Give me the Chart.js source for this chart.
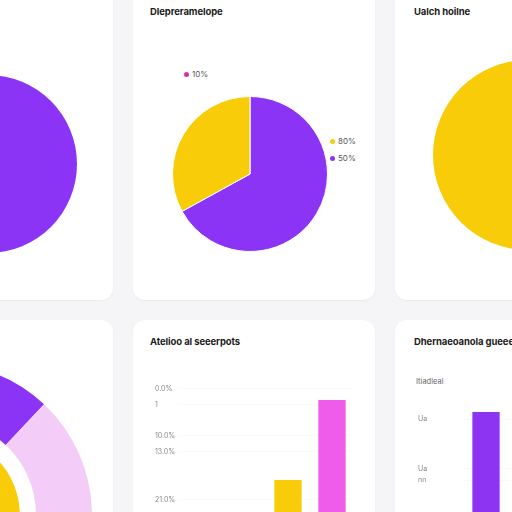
<!DOCTYPE html>
<html>
<head>
<meta charset="utf-8">
<script src="https://cdn.jsdelivr.net/npm/chart.js"></script>
<style>
  body { margin: 0; width: 512px; height: 512px; overflow: hidden; position: relative;
         background: #f5f5f7; font-family: Inter, "DejaVu Sans", sans-serif; }
  .card { position: absolute; width: 242px; background: #fff; border-radius: 12px;
          box-shadow: 0 1px 2px rgba(0,0,0,0.05); }
  .title { position: absolute; font-size: 9.5px; font-weight: 700; color: #1c1c1c; white-space: nowrap; line-height: 12px; letter-spacing: -0.1px; }
  .box { position: absolute; }
  .lg { position: absolute; font-size: 8px; color: #555; white-space: nowrap; line-height: 8px; }
  .lg i { display: inline-block; width: 5px; height: 5px; border-radius: 50%; margin-right: 3px; vertical-align: 0; }
  .sub { position: absolute; font-size: 7.5px; color: #666; line-height: 8px; }
</style>
</head>
<body>
<div class="card" style="left:-129px; top:-10px; height:310px;"></div>
<div class="card" style="left:133px; top:-10px; height:310px;"></div>
<div class="card" style="left:395px; top:-10px; height:310px;"></div>
<div class="card" style="left:-129px; top:320px; height:260px;"></div>
<div class="card" style="left:133px; top:320px; height:260px;"></div>
<div class="card" style="left:395px; top:320px; height:260px;"></div>

<div class="title" style="left:150px; top:6px;">Dlepreramelope</div>
<div class="title" style="left:414px; top:6px;">Ualch hoilne</div>
<div class="title" style="left:150px; top:336px;">Atelioo al seeerpots</div>
<div class="title" style="left:414px; top:336px;">Dhernaeoanola gueeeal</div>
<div class="sub" style="left:416px; top:378px;">Itiadleal</div>

<div class="box" style="left:-101px; top:75px; width:178px; height:178px;"><canvas id="pieLeft"></canvas></div>
<div class="box" style="left:172px; top:96px; width:156px; height:156px;"><canvas id="pieMain"></canvas></div>
<div id="pieLegend"></div>
<div class="box" style="left:433px; top:60px; width:190px; height:190px;"><canvas id="pieRight"></canvas></div>
<div class="box" style="left:-212px; top:363px; width:304px; height:304px;"><canvas id="ringChart"></canvas></div>
<div class="box" style="left:155px; top:370px; width:199px; height:174px;"><canvas id="barMid"></canvas></div>
<div class="box" style="left:418px; top:400px; width:178px; height:144px;"><canvas id="barRight"></canvas></div>

<script>
// mau sac
const PURPLE = 'rgb(139, 52, 246)';
const YELLOW = 'rgb(249, 204, 10)';
const MAGENTA = 'rgb(240, 92, 234)';
const PINK = 'rgb(243, 205, 248)';

// --- du lieu ---
const leftPieValues = [100];
const rightPieValues = [100];

const mainPieLabels = ['50%', '80%', '10%'];
const mainPieValues = [67, 33, 0];
const mainPieColors = [PURPLE, YELLOW, 'rgb(214, 48, 170)'];

const ringOuterValues = [12, 88];
const ringInnerValues = [12.5, 87.5];

const midCategories = ['A', 'B', 'C', 'D'];
const midValues = [null, null, 37.5, 87.5];
const midTickValues = [94.4, 84.4, 65, 55, 25];
const midTickLabels = ['0.0%', '1', '10.0%', '13.0%', '21.0%'];

const rightCategories = ['A', 'B', 'C'];
const rightValues = [98.5, null, null];
const rightTickValues = [93, 55, 46];
const rightTickLabels = ['Ua', 'Ua', 'nn'];

Chart.defaults.animation = false;
Chart.defaults.font.family = 'Inter, "DejaVu Sans", sans-serif';

const noPlugins = { legend: { display: false }, tooltip: { enabled: false } };

function simplePie(id, values, color) {
    new Chart(document.getElementById(id), {
        type: 'pie',
        data: { labels: values.map((v, i) => 'S' + i), datasets: [{ data: values, backgroundColor: color, borderWidth: 0 }] },
        options: { responsive: true, maintainAspectRatio: false, layout: { padding: 0 }, plugins: noPlugins }
    });
}

simplePie('pieLeft', leftPieValues, PURPLE);
simplePie('pieRight', rightPieValues, YELLOW);

new Chart(document.getElementById('pieMain'), {
    type: 'pie',
    data: {
        labels: mainPieLabels,
        datasets: [{ data: mainPieValues, backgroundColor: mainPieColors, borderColor: '#fff', borderWidth: 1 }]
    },
    options: { responsive: true, maintainAspectRatio: false, layout: { padding: 0 }, plugins: noPlugins }
});

// chu thich dat tu do quanh banh
const legendSpots = [[330, 154], [330, 137], [184, 70]];
const lgBox = document.getElementById('pieLegend');
mainPieLabels.forEach((lbl, i) => {
    const el = document.createElement('div');
    el.className = 'lg';
    el.style.left = legendSpots[i][0] + 'px';
    el.style.top = legendSpots[i][1] + 'px';
    el.innerHTML = '<i style="background:' + mainPieColors[i] + '"></i>' + lbl;
    lgBox.appendChild(el);
});

new Chart(document.getElementById('ringChart'), {
    type: 'doughnut',
    data: {
        labels: ['A', 'B'],
        datasets: [
            { data: ringOuterValues, backgroundColor: [PURPLE, PINK], borderWidth: 0, weight: 56 },
            { data: [100], backgroundColor: '#fff', borderWidth: 0, weight: 16 },
            { data: ringInnerValues, backgroundColor: ['#fff', YELLOW], borderWidth: 0, weight: 30 }
        ]
    },
    options: { responsive: true, maintainAspectRatio: false, cutout: 50, layout: { padding: 0 }, plugins: noPlugins }
});

function barChart(id, cats, values, colors, tickVals, tickLbls, axisWidth, padTop) {
    new Chart(document.getElementById(id), {
        type: 'bar',
        data: { labels: cats, datasets: [{ data: values, backgroundColor: colors, borderWidth: 0,
                 barPercentage: 0.62, categoryPercentage: 1 }] },
        options: {
            responsive: true, maintainAspectRatio: false,
            layout: { padding: { top: padTop, right: 0, left: 0, bottom: 0 } },
            plugins: noPlugins,
            scales: {
                x: { display: false },
                y: {
                    min: 0, max: 100,
                    border: { display: false },
                    grid: { color: 'rgba(0,0,0,0.018)', drawTicks: false },
                    afterBuildTicks: (s) => { s.ticks = tickVals.map(v => ({ value: v })); },
                    afterFit: (s) => { s.width = axisWidth; },
                    ticks: {
                        crossAlign: 'far', padding: 0, color: '#888', font: { size: 7 },
                        callback: (v) => tickLbls[tickVals.indexOf(v)]
                    }
                }
            }
        }
    });
}

barChart('barMid', midCategories, midValues, [YELLOW, YELLOW, YELLOW, MAGENTA],
    midTickValues, midTickLabels, 23, 10);
barChart('barRight', rightCategories, rightValues, 'rgb(140, 52, 242)',
    rightTickValues, rightTickLabels, 46, 10);
</script>
</body>
</html>
